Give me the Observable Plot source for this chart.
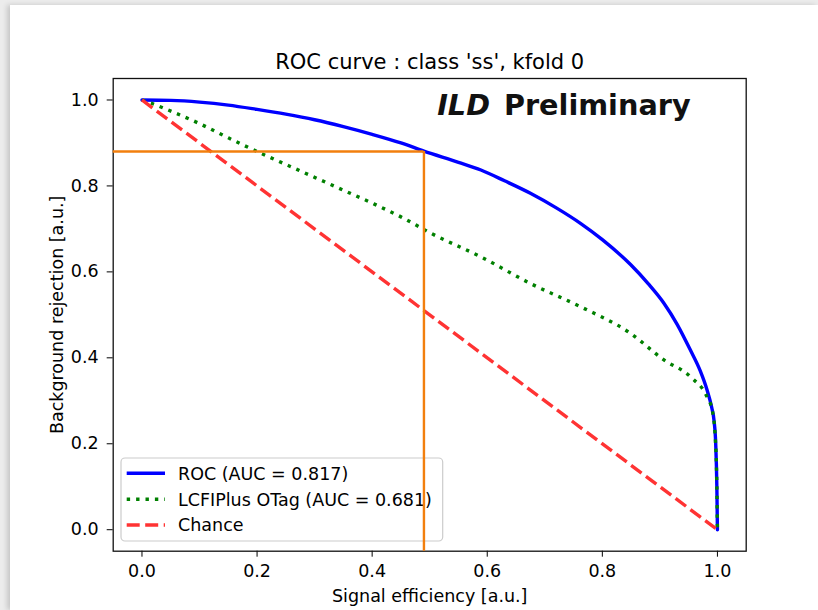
<!DOCTYPE html>
<html><head><meta charset="utf-8">
<script src="https://cdn.jsdelivr.net/npm/d3@7"></script>
<script src="https://cdn.jsdelivr.net/npm/@observablehq/plot@0.6"></script>
<style>
html,body{margin:0;padding:0;width:818px;height:610px;overflow:hidden;background:#ececec;}
#wrap{position:absolute;left:10px;top:5px;width:808px;height:605px;background:#fff;box-shadow:-3px 0 5px rgba(0,0,0,0.16);}
</style></head><body><div id="wrap"></div>
<script>
// ---- data ----
const rocX = [0.00,0.05,0.10,0.15,0.20,0.25,0.30,0.35,0.40,0.45,0.49,0.55,0.589,0.63,0.675,0.72,0.762,0.80,0.849,0.88,0.907,0.93,0.953,0.97,0.982,0.990,0.994,0.997,0.999,1.000];
const rocY = [1.000,0.999,0.995,0.988,0.978,0.967,0.954,0.938,0.920,0.900,0.881,0.855,0.837,0.812,0.783,0.749,0.713,0.675,0.617,0.572,0.527,0.478,0.418,0.370,0.325,0.285,0.255,0.200,0.100,0.000];
const otagX = [0.00,0.017,0.045,0.10,0.15,0.20,0.25,0.30,0.35,0.40,0.45,0.502,0.589,0.675,0.762,0.849,0.907,0.953,0.982,0.991,0.996,0.999,1.000];
const otagY = [1.000,0.992,0.977,0.945,0.912,0.880,0.850,0.820,0.790,0.760,0.728,0.690,0.635,0.573,0.519,0.457,0.395,0.356,0.309,0.278,0.220,0.100,0.000];
const chanceX = [0, 1];
const chanceY = [1, 0];
const cutX = 0.49, cutY = 0.88;
const xTicks = [0, 0.2, 0.4, 0.6, 0.8, 1.0];
const yTicks = [0, 0.2, 0.4, 0.6, 0.8, 1.0];
const legendLabels = ["ROC (AUC = 0.817)", "LCFIPlus OTag (AUC = 0.681)", "Chance"];
const titleText = "ROC curve : class 'ss', kfold 0";
const xLabel = "Signal efficiency [a.u.]";
const yLabel = "Background rejection [a.u.]";

// ---- styles ----
const colors = ["#0000ff", "#008000", "#ff3333"];
const dashes = [null, "3.4,6", "13,5.5"];
const lw = 3.4;
const orange = "#f27f0e";
const xDom = [-0.05, 1.05], yDom = [-0.05, 1.05];

const roc = rocX.map((x, i) => ({x, y: rocY[i]}));
const otag = otagX.map((x, i) => ({x, y: otagY[i]}));
const chance = chanceX.map((x, i) => ({x, y: chanceY[i]}));

function legendMark(index, scales, values, dims) {
  const g = d3.create("svg:g").attr("font-family", "DejaVu Sans").attr("font-size", 17.5).attr("text-anchor", "start");
  const bw = 321.7, bh = 83;
  const bx = dims.marginLeft + 8.3;
  const by = dims.height - dims.marginBottom - 9.7 - bh;
  g.append("rect").attr("x", bx).attr("y", by).attr("width", bw).attr("height", bh)
    .attr("rx", 4).attr("fill", "rgba(255,255,255,0.8)").attr("stroke", "#cccccc").attr("stroke-width", 1.2);
  const rows = [15.3, 41.3, 67];
  legendLabels.forEach((lab, i) => {
    const yy = by + rows[i];
    const ln = g.append("line").attr("x1", bx + 5.7).attr("x2", bx + 44).attr("y1", yy).attr("y2", yy)
      .attr("stroke", colors[i]).attr("stroke-width", lw);
    if (dashes[i]) ln.attr("stroke-dasharray", dashes[i]);
    g.append("text").attr("x", bx + 57).attr("y", yy + 6.2).attr("fill", "#000").attr("text-anchor", "start").text(lab);
  });
  return g.node();
}

const plot = Plot.plot({
  width: 808, height: 605,
  marginLeft: 102.7, marginRight: 72.3, marginTop: 73, marginBottom: 59.3,
  style: {fontFamily: "DejaVu Sans", fontSize: "17.5px", color: "#000", background: "transparent", overflow: "visible"},
  x: {domain: xDom},
  y: {domain: yDom},
  marks: [
    Plot.axisX({ticks: xTicks, tickFormat: d => d.toFixed(1), tickSize: 6, tickPadding: 7.5, fontSize: 17.5, label: null}),
    Plot.axisY({ticks: yTicks, tickFormat: d => d.toFixed(1), tickSize: 6, tickPadding: 8.5, fontSize: 17.5, label: null}),
    Plot.line(roc, {x: "x", y: "y", stroke: colors[0], strokeWidth: lw, curve: "monotone-x"}),
    Plot.line(otag, {x: "x", y: "y", stroke: colors[1], strokeWidth: lw, strokeDasharray: dashes[1], strokeLinecap: "butt", curve: "monotone-x"}),
    Plot.line(chance, {x: "x", y: "y", stroke: colors[2], strokeWidth: lw, strokeDasharray: dashes[2], strokeLinecap: "butt"}),
    Plot.frame({stroke: "#111", strokeWidth: 1.3}),
    legendMark,
    Plot.ruleY([{y: cutY, x1: xDom[0], x2: cutX}], {y: "y", x1: "x1", x2: "x2", stroke: orange, strokeWidth: 2.4}),
    Plot.ruleX([{x: cutX, y1: yDom[0], y2: cutY}], {x: "x", y1: "y1", y2: "y2", stroke: orange, strokeWidth: 2.4}),
    Plot.text(["ILD"], {text: d => d, x: () => 0.513, y: () => 0.965, textAnchor: "start", lineAnchor: "bottom",
      fontSize: 28.7, fontWeight: "bold", fontStyle: "italic", fontFamily: "DejaVu Sans", fill: "#111"}),
    Plot.text(["Preliminary"], {text: d => d, x: () => 0.629, y: () => 0.965, textAnchor: "start", lineAnchor: "bottom",
      fontSize: 28.7, fontWeight: "bold", fontFamily: "DejaVu Sans", fill: "#111"}),
    Plot.text([titleText], {text: d => d, frameAnchor: "top", dy: -10, lineAnchor: "bottom", fontSize: 21, fill: "#000"}),
    Plot.text([xLabel], {text: d => d, frameAnchor: "bottom", dy: 51, lineAnchor: "bottom", fontSize: 17.5, fill: "#000"}),
    Plot.text([yLabel], {text: d => d, frameAnchor: "left", dx: -49.7, rotate: -90, lineAnchor: "bottom", textAnchor: "middle", fontSize: 17.5, fill: "#000"})
  ]
});
document.getElementById("wrap").appendChild(plot);
</script></body></html>
